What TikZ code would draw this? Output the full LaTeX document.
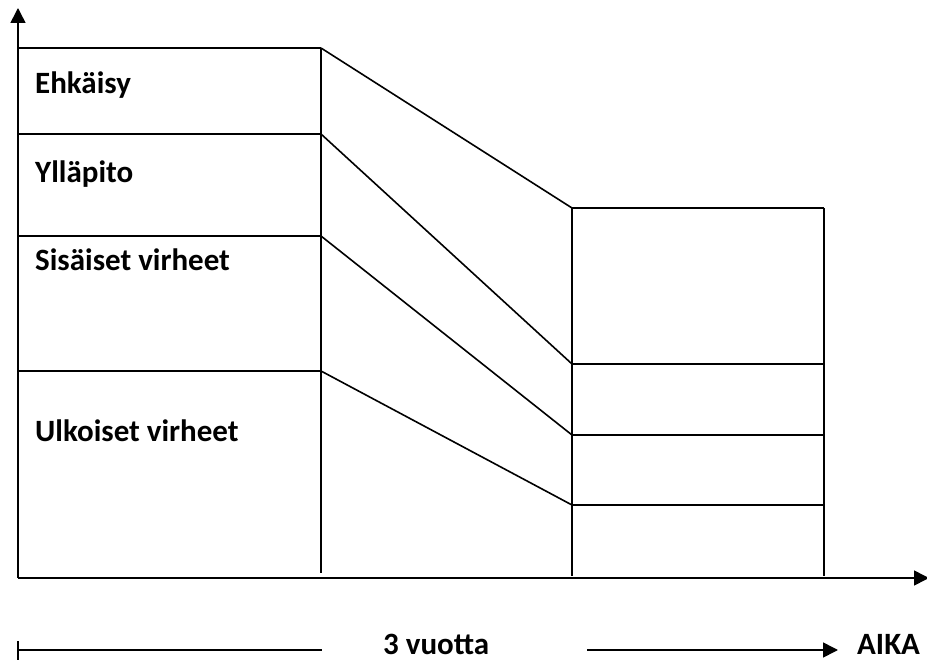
\documentclass[tikz,border=0pt]{standalone}
\usepackage{fontspec}
\setmainfont{Carlito}
\usetikzlibrary{arrows.meta}
\begin{document}
\begin{tikzpicture}[x=1pt,y=-1pt,
  ln/.style={line width=1.6pt,black},
  lbl/.style={anchor=base west,inner sep=0pt,font=\fontsize{31}{36}\selectfont\bfseries},
  tip/.style={-{Triangle[length=15pt,width=15pt]}}]
\useasboundingbox (0,0) rectangle (927,660);
% axes
\coordinate (O) at (18,578);
\coordinate (Ytop) at (18,8);
\coordinate (Xend) at (929,578);
\draw[ln,tip] (O) -- (Ytop);
\draw[ln,tip] (O) -- (Xend);
% left block
\coordinate (L0) at (18,48);
\coordinate (L1) at (18,134);
\coordinate (L2) at (18,236);
\coordinate (L3) at (18,371);
\coordinate (A0) at (321,48);
\coordinate (A1) at (321,134);
\coordinate (A2) at (321,236);
\coordinate (A3) at (321,371);
\coordinate (Ab) at (321,573);
\draw[ln] (L0) -- (A0);
\draw[ln] (L1) -- (A1);
\draw[ln] (L2) -- (A2);
\draw[ln] (L3) -- (A3);
\draw[ln] (A0) -- (Ab);
% right block
\coordinate (B0) at (572,208);
\coordinate (B1) at (572,364);
\coordinate (B2) at (572,435);
\coordinate (B3) at (572,505);
\coordinate (Bb) at (572,576);
\coordinate (C0) at (824,208);
\coordinate (C1) at (824,364);
\coordinate (C2) at (824,435);
\coordinate (C3) at (824,505);
\coordinate (Cb) at (824,576);
\draw[ln] (B0) -- (C0);
\draw[ln] (B1) -- (C1);
\draw[ln] (B2) -- (C2);
\draw[ln] (B3) -- (C3);
\draw[ln] (B0) -- (Bb);
\draw[ln] (C0) -- (Cb);
% slanted
\draw[ln] (A0) -- (B0);
\draw[ln] (A1) -- (B1);
\draw[ln] (A2) -- (B2);
\draw[ln] (A3) -- (B3);
% labels
\node[lbl] (t1) at (35,94) {Ehkäisy};
\node[lbl] (t2) at (35,183) {Ylläpito};
\node[lbl] (t3) at (35,271) {Sisäiset virheet};
\node[lbl] (t4) at (35,442) {Ulkoiset virheet};
% bottom time arrow
\coordinate (T0) at (18,650);
\coordinate (Tt) at (18,641);
\coordinate (Tb) at (18,660);
\coordinate (T1) at (322,650);
\coordinate (T2) at (587,650);
\coordinate (T3) at (838,650);
\draw[ln] (Tt) -- (Tb);
\draw[ln] (T0) -- (T1);
\node[lbl] (v) at (383,654) {3 vuotta};
\draw[ln,tip] (T2) -- (T3);
\node[lbl] (aika) at (857,654) {AIKA};
\end{tikzpicture}
\end{document}
